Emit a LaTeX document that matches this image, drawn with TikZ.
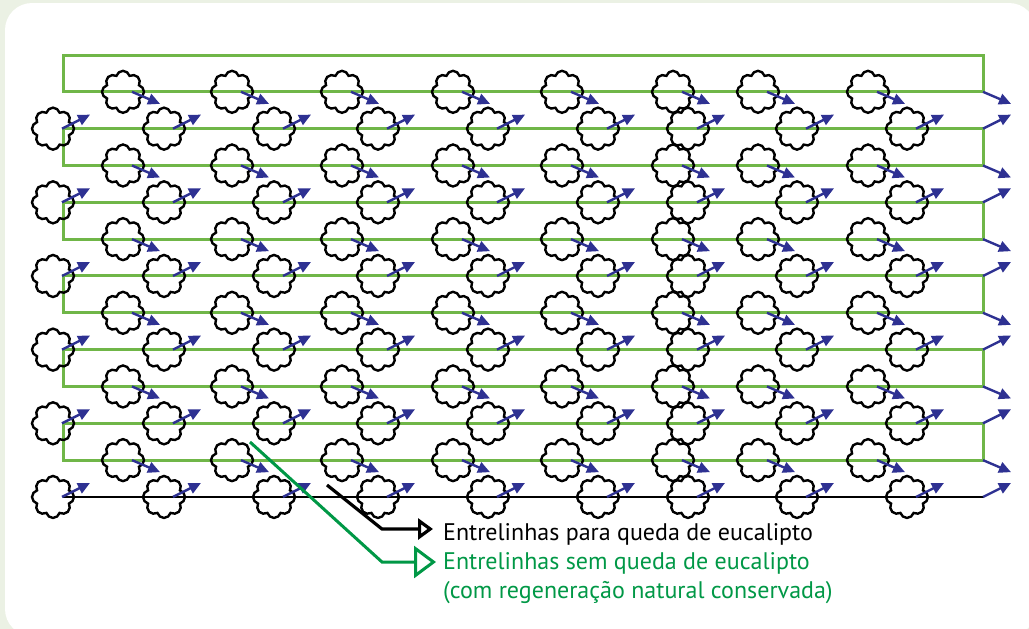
\documentclass[tikz,border=0pt]{standalone}
\usepackage{fontspec}
\setmainfont{PT Sans}
\usetikzlibrary{arrows.meta, shapes.symbols, positioning}

\definecolor{panelbg}{RGB}{235,241,228}
\definecolor{rowgreen}{RGB}{112,182,72}
\definecolor{fallblue}{RGB}{46,49,146}
\definecolor{notegreen}{RGB}{0,152,70}

\begin{document}
\begin{tikzpicture}[x=1pt, y=-1pt,
	tree/.style = {cloud, cloud puffs=8, cloud puff arc=150, aspect=1, draw, line width=2.4pt, inner sep=0pt, minimum size=42pt},
	row/.style = {rowgreen, line width=3pt},
	fall/.style = {fallblue, line width=2.4pt, -{Triangle[length=12pt, width=11pt]}},
	pointer/.style = {line width=3.2pt},
	note/.style = {font=\fontsize{24}{29}\selectfont, inner sep=0pt, anchor=base west}]
	\useasboundingbox (0,0) rectangle (1029,629);
	\fill[panelbg] (0,0) rectangle (1029,629);
	\clip (0,0) rectangle (1029,629);
	\fill[white, rounded corners=27pt] (5,3) rectangle (1036,636);

	% rows between the trees
	\foreach \r in {0,...,5}
		\draw[row] (63, {55+36.83*2*\r}) rectangle (983, {55+36.83*(2*\r+1)});
	\draw[line width=2.6pt] (63,497) -- (984,497);

	% trees and the side they fall to
	\foreach \r in {1,...,6} {
		\foreach \x [count=\c] in {123,232,342,453,562,673,758,868} {
			\node[tree] (b\r-\c) at (\x, {55+36.83*(2*\r-1)}) {};
			\draw[fall] ([xshift=9pt]b\r-\c.center) -- ++(28,12);
		}
		\foreach \x [count=\c] in {53,164,274,378,488,598,688,797,907} {
			\node[tree] (a\r-\c) at (\x, {55+36.83*2*\r}) {};
			\draw[fall] ([xshift=9pt]a\r-\c.center) -- ++(28,-14);
		}
		\coordinate (eb\r) at (983, {55+36.83*(2*\r-1)});
		\coordinate (ea\r) at (983, {55+36.83*2*\r});
		\draw[fall] (eb\r) -- ++(28,12);
		\draw[fall] (ea\r) -- ++(28,-14);
	}

	% legend
	\node[note] (lblA) at (443,540) {Entrelinhas para queda de eucalipto};
	\node[note, notegreen, below = 29pt of lblA.base west, anchor=base west] (lblB) {Entrelinhas sem queda de eucalipto};
	\node[note, notegreen, below = 29pt of lblB.base west, anchor=base west] (lblC) {(com regeneração natural conservada)};

	\coordinate (startA) at (327,485);
	\coordinate (kinkA) at (382,529);
	\coordinate (startB) at (250,442);
	\coordinate (kinkB) at (382,562);
	\draw[pointer, shorten >=10pt, -{Triangle[open, length=15pt, width=21pt]}] (startA) -- (kinkA) -- (kinkA -| lblA.west);
	\draw[pointer, notegreen, line width=3pt, shorten >=7pt, -{Triangle[open, length=22pt, width=32pt]}] (startB) -- (kinkB) -- (kinkB -| lblB.west);
\end{tikzpicture}
\end{document}
